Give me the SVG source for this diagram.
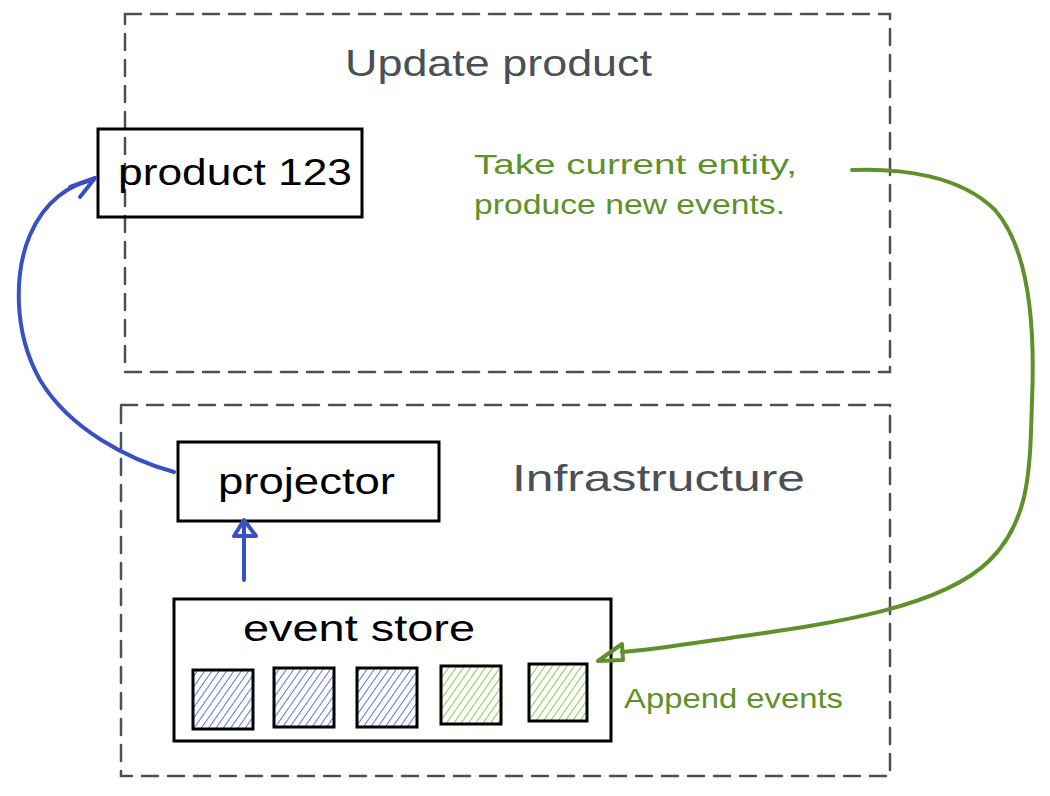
<svg xmlns="http://www.w3.org/2000/svg" width="1050" height="796" viewBox="0 0 1050 796">
<style>
.frame{fill:none;stroke:#495057;stroke-width:2.5;stroke-dasharray:16 10;stroke-linecap:round}
.box{fill:none;stroke:#000;stroke-width:3}
.title{font-family:"Liberation Sans",sans-serif;font-size:36px;fill:#495057}
.label{font-family:"Liberation Sans",sans-serif;font-size:36px;fill:#000}
.note{font-family:"Liberation Sans",sans-serif;font-size:28px;fill:#5f912b}
.blue{fill:none;stroke:#3b4fc4;stroke-width:4;stroke-linecap:round;stroke-linejoin:round}
.green{fill:none;stroke:#5f912b;stroke-width:4;stroke-linecap:round;stroke-linejoin:round}
.sq{stroke:#000;stroke-width:3}
</style>
<defs>
<pattern id="hb" width="6" height="6" patternUnits="userSpaceOnUse" patternTransform="rotate(35)">
<line x1="0" y1="0" x2="0" y2="6" stroke="#4c63e6" stroke-width="1.8"/>
</pattern>
<pattern id="hg" width="6" height="6" patternUnits="userSpaceOnUse" patternTransform="rotate(35)">
<line x1="0" y1="0" x2="0" y2="6" stroke="#82c341" stroke-width="1.8"/>
</pattern>
</defs>
<rect width="1050" height="796" fill="#fff"/>

<g id="update-product">
<rect class="frame" x="125" y="14" width="765" height="358"/>
<text class="title" x="345" y="76" textLength="307" lengthAdjust="spacingAndGlyphs">Update product</text>
</g>

<g id="infrastructure">
<rect class="frame" x="121" y="405" width="769" height="371"/>
<text class="title" x="512" y="491" textLength="293" lengthAdjust="spacingAndGlyphs">Infrastructure</text>
</g>

<g id="product-123">
<rect class="box" x="98" y="129" width="264" height="88"/>
<text class="label" x="118" y="185" textLength="234" lengthAdjust="spacingAndGlyphs">product 123</text>
</g>

<g id="note-take">
<text class="note" x="474" y="174" textLength="323" lengthAdjust="spacingAndGlyphs">Take current entity,</text>
<text class="note" x="474" y="214" textLength="311" lengthAdjust="spacingAndGlyphs">produce new events.</text>
</g>

<g id="projector">
<rect class="box" x="178" y="442" width="261" height="79"/>
<text class="label" x="218" y="494" textLength="177" lengthAdjust="spacingAndGlyphs">projector</text>
</g>

<g id="event-store">
<rect class="box" x="174" y="599" width="437" height="142"/>
<text class="label" x="243" y="641" textLength="232" lengthAdjust="spacingAndGlyphs">event store</text>
<rect class="sq" fill="url(#hb)" x="193" y="670" width="60" height="59"/>
<rect class="sq" fill="url(#hb)" x="274" y="668" width="60" height="59"/>
<rect class="sq" fill="url(#hb)" x="357" y="668" width="60" height="59"/>
<rect class="sq" fill="url(#hg)" x="441" y="666" width="60" height="58"/>
<rect class="sq" fill="url(#hg)" x="529" y="664" width="58" height="57"/>
</g>

<g id="note-append">
<text class="note" x="624" y="708" textLength="219" lengthAdjust="spacingAndGlyphs">Append events</text>
</g>

<g id="connectors">
<path class="blue" d="M174 472 C130 460 70 430 40 380 C12 330 15 270 30 235 C45 200 70 185 92 180"/>
<path class="blue" d="M70 187 L95 178 L80 197"/>
<path class="blue" d="M244 580 L244 522"/>
<path class="blue" d="M244 520 L234 536 L256 536 Z"/>
<path class="green" d="M852 170 C900 168 960 175 995 210 C1030 250 1035 330 1032 400 C1030 470 1030 520 990 560 C940 610 820 625 730 638 C680 645 650 650 622 652"/>
<path class="green" d="M622 644 L598 661 L623 660 Z"/>
</g>
</svg>
